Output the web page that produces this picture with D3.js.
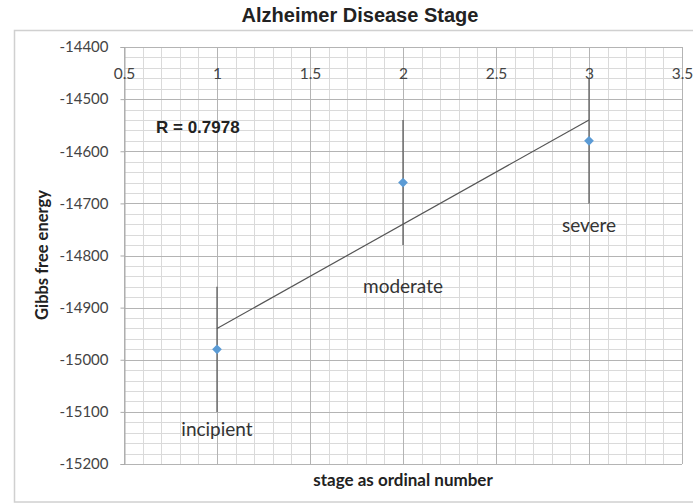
<!DOCTYPE html>
<html>
<head>
<meta charset="utf-8">
<script src="https://cdn.jsdelivr.net/npm/d3@7"></script>
<style>
  body { margin: 0; background: #fff; }
  svg { display: block; }
</style>
</head>
<body>
<div id="vis"></div>
<script>
// stage of the disease (ordinal) and measured energy
const stages = [1, 2, 3];
const stageNames = ["incipient", "moderate", "severe"];
const energy = [-14980, -14660, -14580];
const errorBar = [120, 120, 120];
// where the stage labels sit (in energy units)
const labelAt = [-15133, -14860, -14742];
// linear trend line
const trendX = [1, 3];
const trendY = [-14940, -14540];
const xTicks = [0.5, 1, 1.5, 2, 2.5, 3, 3.5];
const yTicks = [-14400, -14500, -14600, -14700, -14800, -14900, -15000, -15100, -15200];
const rText = "R = 0.7978";

const width = 693, height = 504;
const margin = { left: 124, top: 47, right: 11, bottom: 40 };
const font = "Lato, 'Open Sans', sans-serif";
const fontBold = "'Liberation Sans', Arial, sans-serif";

var svg = d3.select("#vis")
  .append("svg")
  .attr("width", width)
  .attr("height", height);

// outer chart frame
svg.append("rect")
  .attr("x", 14.5).attr("y", 30.5)
  .attr("width", 700).attr("height", 471.5)
  .attr("fill", "#fff")
  .attr("stroke", "#d0d0d0")
  .attr("stroke-width", 1.5);

var x = d3.scaleLinear().domain([0.5, 3.5]).range([margin.left, width - margin.right]);
var y = d3.scaleLinear().domain([-15200, -14400]).range([height - margin.bottom, margin.top]);

// minor grid
var grid = svg.append("g");
grid.selectAll("line.vx")
  .data(d3.range(0.5, 3.5001, 0.1))
  .enter().append("line")
  .attr("x1", d => Math.round(x(d)) + 0.5).attr("x2", d => Math.round(x(d)) + 0.5)
  .attr("y1", y(-14400)).attr("y2", y(-15200))
  .attr("stroke", "#dadada");
grid.selectAll("line.hy")
  .data(d3.range(-15200, -14399, 20))
  .enter().append("line")
  .attr("y1", d => Math.round(y(d)) + 0.5).attr("y2", d => Math.round(y(d)) + 0.5)
  .attr("x1", x(0.5)).attr("x2", x(3.5))
  .attr("stroke", "#dadada");

// major grid
grid.selectAll("line.mx")
  .data(xTicks)
  .enter().append("line")
  .attr("x1", d => Math.round(x(d)) + 0.5).attr("x2", d => Math.round(x(d)) + 0.5)
  .attr("y1", y(-14400)).attr("y2", y(-15200))
  .attr("stroke", "#b4b4b4");
grid.selectAll("line.my")
  .data(yTicks)
  .enter().append("line")
  .attr("y1", d => Math.round(y(d)) + 0.5).attr("y2", d => Math.round(y(d)) + 0.5)
  .attr("x1", x(0.5)).attr("x2", x(3.5))
  .attr("stroke", "#b4b4b4");

// y axis with short tick marks out to the left
var yAxis = svg.append("g")
  .attr("transform", "translate(" + (x(0.5) + 0.5) + ",0)")
  .call(d3.axisLeft(y).tickValues(yTicks).tickSize(4).tickPadding(12).tickFormat(d => String(d)));
yAxis.select(".domain").attr("stroke", "#aaa");
yAxis.selectAll(".tick line").attr("stroke", "#aaa");
yAxis.selectAll(".tick text")
  .attr("fill", "#444")
  .style("font-family", font)
  .style("font-size", "15px");

// x tick labels sit just under the top edge
var xAxis = svg.append("g")
  .attr("transform", "translate(0," + y(-14400) + ")")
  .call(d3.axisBottom(x).tickValues(xTicks).tickSize(0).tickPadding(21).tickFormat(d => String(d)));
xAxis.select(".domain").remove();
xAxis.selectAll(".tick text")
  .attr("fill", "#444")
  .style("font-family", font)
  .style("font-size", "15.5px");

// trend line
svg.append("line")
  .attr("x1", x(trendX[0])).attr("y1", y(trendY[0]))
  .attr("x2", x(trendX[1])).attr("y2", y(trendY[1]))
  .attr("stroke", "#555")
  .attr("stroke-width", 1.2);

// error bars
svg.selectAll("line.err")
  .data(stages)
  .enter().append("line")
  .attr("x1", d => x(d)).attr("x2", d => x(d))
  .attr("y1", (d, i) => y(energy[i] + errorBar[i]))
  .attr("y2", (d, i) => y(energy[i] - errorBar[i]))
  .attr("stroke", "#555")
  .attr("stroke-width", 1.2);

// diamond markers
svg.selectAll("path.pt")
  .data(stages)
  .enter().append("path")
  .attr("d", d3.symbol().type(d3.symbolDiamond2).size(60))
  .attr("transform", (d, i) => "translate(" + x(d) + "," + y(energy[i]) + ")")
  .attr("fill", "#5b9bd5");

// stage labels
svg.selectAll("text.stage")
  .data(stageNames)
  .enter().append("text")
  .attr("x", (d, i) => x(stages[i]))
  .attr("y", (d, i) => y(labelAt[i]))
  .attr("dy", "0.35em")
  .attr("text-anchor", "middle")
  .attr("fill", "#333")
  .style("font-family", font)
  .style("font-size", "19px")
  .text(d => d);

// correlation
svg.append("text")
  .attr("x", 156).attr("y", 133)
  .attr("fill", "#222")
  .style("font-family", fontBold)
  .style("font-weight", "bold")
  .style("font-size", "17px")
  .text(rText);

// titles
svg.append("text")
  .attr("x", 360).attr("y", 22)
  .attr("text-anchor", "middle")
  .attr("fill", "#222")
  .style("font-family", fontBold)
  .style("font-weight", "bold")
  .style("font-size", "20px")
  .text("Alzheimer Disease Stage");

svg.append("text")
  .attr("x", 403).attr("y", 486)
  .attr("text-anchor", "middle")
  .attr("fill", "#222")
  .style("font-family", font)
  .style("font-weight", "bold")
  .style("font-size", "17px")
  .text("stage as ordinal number");

svg.append("text")
  .attr("transform", "translate(48,255) rotate(-90)")
  .attr("text-anchor", "middle")
  .attr("fill", "#222")
  .style("font-family", font)
  .style("font-weight", "bold")
  .style("font-size", "16.5px")
  .text("Gibbs free energy");
</script>
</body>
</html>
